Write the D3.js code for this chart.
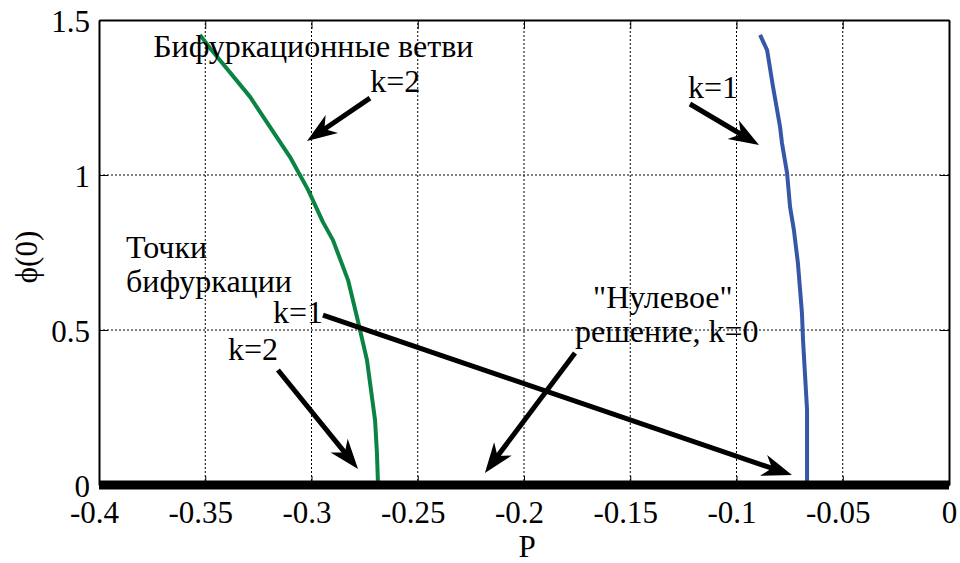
<!DOCTYPE html>
<html>
<head>
<meta charset="utf-8">
<script src="https://cdn.jsdelivr.net/npm/d3@7"></script>
</head>
<body style="margin:0">
<script>
// 数据区：P 与 ϕ(0)
const xTicks = [-0.4, -0.35, -0.3, -0.25, -0.2, -0.15, -0.1, -0.05, 0];
const yTicks = [0, 0.5, 1, 1.5];

// k=2 分支 (绿色)
const branchK2P   = [-0.3525, -0.3478, -0.3289, -0.3101, -0.3016, -0.2946, -0.2899, -0.2828, -0.2786, -0.2739, -0.2701, -0.2692, -0.2687];
const branchK2Phi = [1.452, 1.410, 1.252, 1.058, 0.952, 0.848, 0.790, 0.661, 0.542, 0.403, 0.210, 0.103, 0];

// k=1 分支 (蓝色)
const branchK1P   = [-0.0889, -0.0856, -0.0828, -0.0795, -0.0786, -0.0762, -0.0748, -0.0730, -0.0711, -0.0692, -0.0687, -0.0668, -0.0668];
const branchK1Phi = [1.452, 1.403, 1.284, 1.155, 1.103, 1.006, 0.897, 0.823, 0.716, 0.555, 0.468, 0.242, 0];

// "零"解 k=0
const zeroP   = [-0.4, 0];
const zeroPhi = [0, 0];

// 箭头：尾部 -> 箭头尖 (数据坐标)
const arrows = [
  { from: [-0.2725, 1.248], to: [-0.3021, 1.110] },
  { from: [-0.1219, 1.229], to: [-0.0894, 1.097] },
  { from: [-0.2946, 0.548], to: [-0.0739, 0.032] },
  { from: [-0.3158, 0.371], to: [-0.2781, 0.052] },
  { from: [-0.1760, 0.426], to: [-0.2184, 0.039] }
];

// 注释文字 (左下角锚点，数据坐标)
const labels = [
  { text: "Бифуркационные ветви", at: [-0.3745, 1.381] },
  { text: "k=2",                 at: [-0.2724, 1.268] },
  { text: "k=1",                 at: [-0.1228, 1.249] },
  { text: "Точки",               at: [-0.3873, 0.732] },
  { text: "бифуркации",          at: [-0.3873, 0.622] },
  { text: "k=1",                 at: [-0.3181, 0.521] },
  { text: "k=2",                 at: [-0.3393, 0.403] },
  { text: "\"Нулевое\"",         at: [-0.1675, 0.571] },
  { text: "решение, k=0",        at: [-0.1760, 0.461] }
];

//常量区
const width = 960, height = 563;
const margin = { top: 20, right: 11, bottom: 78, left: 99 };
const fontSize = 31;
const fam = "Liberation Serif";

const svg = d3.select("body").append("svg")
  .attr("width", width)
  .attr("height", height)
  .attr("font-family", fam);

const x = d3.scaleLinear().domain([-0.4, 0]).range([margin.left, width - margin.right]);
const y = d3.scaleLinear().domain([0, 1.5]).range([height - margin.bottom, margin.top]);

const [x0, x1] = x.range();
const [yb, yt] = y.range();

// 网格线
svg.append("g").selectAll("line")
  .data(xTicks.slice(1, -1))
  .join("line")
  .attr("x1", d => x(d)).attr("x2", d => x(d))
  .attr("y1", yb).attr("y2", yt)
  .attr("stroke", "#000").attr("stroke-width", 1)
  .attr("stroke-dasharray", "2,2");
svg.append("g").selectAll("line")
  .data(yTicks.slice(1, -1))
  .join("line")
  .attr("x1", x0).attr("x2", x1)
  .attr("y1", d => y(d)).attr("y2", d => y(d))
  .attr("stroke", "#000").attr("stroke-width", 1)
  .attr("stroke-dasharray", "2,2");

// 坐标轴 (刻度朝内，四边)
const tickLen = 9;
const axisB = svg.append("g").attr("transform", `translate(0,${yb})`)
  .call(d3.axisBottom(x).tickValues(xTicks).tickSizeInner(-tickLen).tickSizeOuter(0)
    .tickFormat(d => d === 0 ? "0" : String(d)));
const axisT = svg.append("g").attr("transform", `translate(0,${yt})`)
  .call(d3.axisTop(x).tickValues(xTicks).tickSizeInner(-tickLen).tickSizeOuter(0).tickFormat(""));
const axisL = svg.append("g").attr("transform", `translate(${x0},0)`)
  .call(d3.axisLeft(y).tickValues(yTicks).tickSizeInner(-tickLen).tickSizeOuter(0)
    .tickFormat(d => String(d)));
const axisR = svg.append("g").attr("transform", `translate(${x1},0)`)
  .call(d3.axisRight(y).tickValues(yTicks).tickSizeInner(-tickLen).tickSizeOuter(0).tickFormat(""));

[axisB, axisT, axisL, axisR].forEach(g => {
  g.attr("font-family", fam).attr("font-size", fontSize);
  g.select(".domain").attr("stroke", "#000").attr("stroke-width", 2);
  g.selectAll(".tick line").attr("stroke", "#000").attr("stroke-width", 1);
});

axisB.selectAll(".tick text")
  .attr("font-family", fam)
  .style("font-family", `"${fam}"`)
  .attr("fill", "#000")
  .attr("y", 0).attr("dy", 0)
  .attr("transform", d => `translate(${d < 0 ? -5 : 0},38)`);
axisL.selectAll(".tick text")
  .attr("font-family", fam)
  .style("font-family", `"${fam}"`)
  .attr("fill", "#000")
  .attr("x", -9).attr("dy", 0)
  .attr("y", 11);

// 曲线
const line = d3.line().x(d => x(d[0])).y(d => y(d[1]));

svg.append("path")
  .attr("d", line(d3.zip(branchK2P, branchK2Phi)))
  .attr("fill", "none").attr("stroke", "#0a8443").attr("stroke-width", 4)
  .attr("stroke-linejoin", "round");

svg.append("path")
  .attr("d", line(d3.zip(branchK1P, branchK1Phi)))
  .attr("fill", "none").attr("stroke", "#3656a8").attr("stroke-width", 4)
  .attr("stroke-linejoin", "round");

svg.append("path")
  .attr("d", line(d3.zip(zeroP, zeroPhi)))
  .attr("fill", "none").attr("stroke", "#000").attr("stroke-width", 9);

// 箭头
function drawArrow(a) {
  const tx = x(a.from[0]), ty = y(a.from[1]);
  const hx = x(a.to[0]), hy = y(a.to[1]);
  const ang = Math.atan2(hy - ty, hx - tx);
  const L = 30, W = 11, notch = 9;
  const ux = Math.cos(ang), uy = Math.sin(ang);
  const px = -uy, py = ux;
  const bx = hx - ux * L, by = hy - uy * L;
  const nx = hx - ux * (L - notch), ny = hy - uy * (L - notch);
  svg.append("line")
    .attr("x1", tx).attr("y1", ty)
    .attr("x2", nx + ux * 2).attr("y2", ny + uy * 2)
    .attr("stroke", "#000").attr("stroke-width", 5);
  svg.append("path")
    .attr("d", `M${hx},${hy}L${bx + px * W},${by + py * W}L${nx},${ny}L${bx - px * W},${by - py * W}Z`)
    .attr("fill", "#000");
}
arrows.forEach(drawArrow);

// 注释文字
svg.append("g").selectAll("text")
  .data(labels)
  .join("text")
  .attr("x", d => x(d.at[0]))
  .attr("y", d => y(d.at[1]))
  .attr("font-family", fam)
  .style("font-family", `"${fam}"`)
  .style("font-size", "32px")
  .attr("fill", "#000")
  .text(d => d.text);

// 轴标题
svg.append("text")
  .attr("x", (x0 + x1) / 2 + 3)
  .attr("y", 557)
  .attr("text-anchor", "middle")
  .attr("font-family", fam)
  .style("font-family", `"${fam}"`)
  .style("font-size", fontSize + "px")
  .text("P");

svg.append("text")
  .attr("transform", "translate(37,257) rotate(-90)")
  .attr("text-anchor", "middle")
  .attr("font-family", fam)
  .style("font-family", `"${fam}"`)
  .style("font-size", fontSize + "px")
  .text("ϕ(0)");
</script>
</body>
</html>
